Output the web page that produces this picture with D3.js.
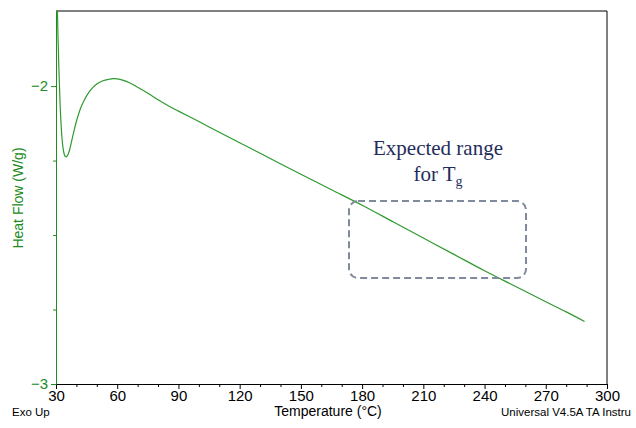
<!DOCTYPE html><html><head><script src="https://cdn.jsdelivr.net/npm/d3@7"></script>
<style>body{margin:0;background:#fff}</style></head><body><svg id="c" width="636" height="428"></svg><script>
const temps=[30.3,30.6,31,31.5,32,32.5,33,33.5,34,34.5,35,35.5,36,36.5,37,38,39,40,42,44,46,48,50,53,56,58,60,63,66,70,75,80,85,90,100,110,120,135,150,165,180,195,210,225,240,255,270,280,289];
const flow=[-1.6,-1.72,-1.84,-1.96,-2.06,-2.13,-2.18,-2.21,-2.228,-2.236,-2.238,-2.234,-2.228,-2.218,-2.205,-2.175,-2.145,-2.118,-2.075,-2.045,-2.022,-2.005,-1.993,-1.982,-1.977,-1.975,-1.976,-1.981,-1.989,-2.004,-2.024,-2.046,-2.066,-2.084,-2.119,-2.155,-2.19,-2.243,-2.296,-2.348,-2.4,-2.455,-2.51,-2.565,-2.62,-2.672,-2.724,-2.758,-2.79];
const xTicks=[30,60,90,120,150,180,210,240,270,300];
const yTicks=[-2,-3];
const svg=d3.select("#c");
const L=56,R=607,T=11,B=384;
const x=d3.scaleLinear().domain([30,300]).range([L,R]);
const y=d3.scaleLinear().domain([-3,-1.748]).range([B,T]);
svg.append("defs").append("clipPath").attr("id","cp").append("rect").attr("x",L).attr("y",T).attr("width",R-L).attr("height",B-T);
svg.append("line").attr("x1",L).attr("x2",R).attr("y1",T).attr("y2",T).attr("stroke","#000");
svg.append("line").attr("x1",R).attr("x2",R).attr("y1",T).attr("y2",B).attr("stroke","#000");
const xa=svg.append("g").attr("transform",`translate(0,${B})`).call(d3.axisBottom(x).tickValues(xTicks).tickSize(5).tickSizeOuter(0));
xa.selectAll("text").attr("font-family","Liberation Sans, Arial").attr("font-size",15).attr("fill","#000").attr("dy","0.6em");
svg.append("g").attr("transform",`translate(0,${B})`).call(d3.axisBottom(x).tickValues(d3.range(40,300,10).filter(v=>v%30)).tickSize(3).tickFormat("")).select(".domain").remove();
const ya=svg.append("g").attr("transform",`translate(${L},0)`).call(d3.axisLeft(y).tickValues(yTicks).tickSize(5).tickSizeOuter(0).tickFormat(d3.format("d")));
ya.select(".domain").attr("stroke","#228b22");
ya.selectAll("line").attr("stroke","#228b22");
ya.selectAll("text").attr("font-family","Liberation Sans, Arial").attr("font-size",15).attr("fill","#228b22");
svg.append("g").attr("transform",`translate(${L},0)`).call(d3.axisLeft(y).tickValues([-2.25,-2.5,-2.75]).tickSize(3).tickFormat("")).call(g=>{g.select(".domain").remove();g.selectAll("line").attr("stroke","#228b22");});
svg.append("path").datum(temps.map((t,i)=>[t,flow[i]])).attr("clip-path","url(#cp)").attr("fill","none").attr("stroke","#2e9a2e").attr("stroke-width",1.2)
 .attr("d",d3.line().x(d=>x(d[0])).y(d=>y(d[1])).curve(d3.curveMonotoneX));
svg.append("rect").attr("x",349).attr("y",201).attr("width",177).attr("height",77).attr("rx",9).attr("fill","none").attr("stroke","#7f8a9c").attr("stroke-width",2).attr("stroke-dasharray","7,4");
const ser="Liberation Serif, Times New Roman";
svg.append("text").attr("x",438).attr("y",155).attr("text-anchor","middle").attr("font-family",ser).attr("font-size",21).attr("fill","#1f2d5c").text("Expected range");
const t2=svg.append("text").attr("x",438).attr("y",181).attr("text-anchor","middle").attr("font-family",ser).attr("font-size",21).attr("fill","#1f2d5c");
t2.append("tspan").text("for T");t2.append("tspan").attr("font-size",14).attr("dy",5).text("g");
svg.append("text").attr("x",328).attr("y",416).attr("text-anchor","middle").attr("font-family","Liberation Sans, Arial").attr("font-size",14).text("Temperature (°C)");
svg.append("text").attr("x",12).attr("y",416).attr("font-family","Liberation Sans, Arial").attr("font-size",11.5).text("Exo Up");
svg.append("text").attr("x",631).attr("y",416).attr("text-anchor","end").attr("font-family","Liberation Sans, Arial").attr("font-size",11.5).text("Universal V4.5A TA Instru");
svg.append("text").attr("transform","translate(23,198) rotate(-90)").attr("text-anchor","middle").attr("font-family","Liberation Sans, Arial").attr("font-size",14).attr("fill","#228b22").text("Heat Flow (W/g)");
</script></body></html>
